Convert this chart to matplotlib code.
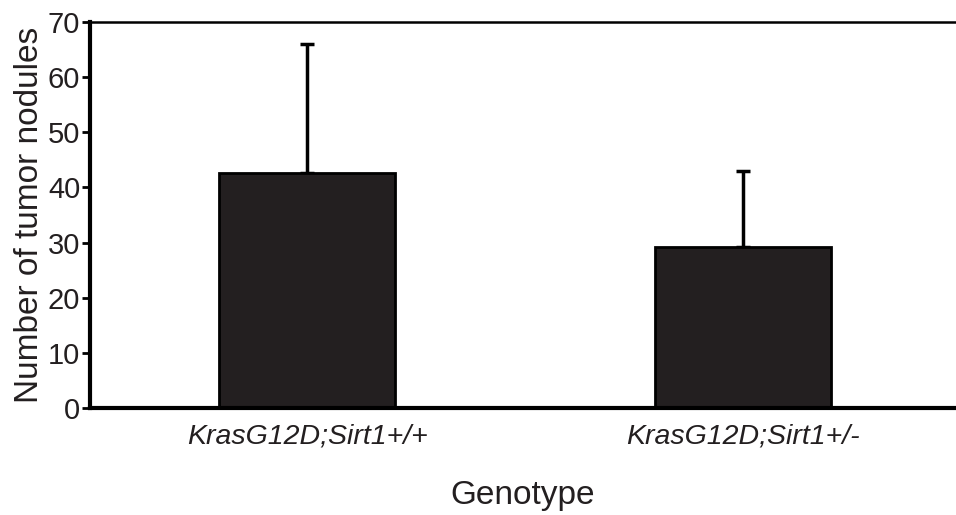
import matplotlib
matplotlib.use("Agg")
import matplotlib.pyplot as plt

# Tumor nodule counts per genotype (mean and upper SD)
genotypes = ["KrasG12D;Sirt1+/+", "KrasG12D;Sirt1+/-"]
means = [42.7, 29.2]
errors = [23.4, 13.7]
yticks = [0, 10, 20, 30, 40, 50, 60, 70]

ink = "#231f20"
plt.rcParams["font.family"] = ["Liberation Sans", "DejaVu Sans"]

fig = plt.figure(figsize=(9.56, 5.15), dpi=100)
ax = fig.add_axes([0.0941, 0.2078, 0.9059, 0.7494])

x = list(range(len(genotypes)))
ax.bar(x, means, width=0.404, color=ink, edgecolor="black", linewidth=2, zorder=2)
ax.errorbar(x, means, yerr=[[0] * len(errors), errors], fmt="none",
            ecolor="black", elinewidth=2.5, capsize=5, capthick=2.5, zorder=1)

ax.set_xlim(-0.498, 1.488)
ax.set_ylim(0, 70)
ax.set_yticks(yticks)
ax.set_xticks(x)
ax.set_xticklabels(genotypes, fontstyle="italic", fontsize=20.5, color=ink)
ax.tick_params(axis="x", length=0, pad=11)
ax.tick_params(axis="y", length=6, width=2, direction="out", labelsize=21,
               labelcolor=ink, pad=1)

ax.spines["right"].set_visible(False)
ax.spines["left"].set_linewidth(3)
ax.spines["bottom"].set_linewidth(3)
ax.spines["top"].set_linewidth(1.8)

ax.set_ylabel("Number of tumor nodules", fontsize=24, color=ink, labelpad=2)
ax.set_xlabel("Genotype", fontsize=24, color=ink, labelpad=22)

fig.savefig("out.png", dpi=100)
